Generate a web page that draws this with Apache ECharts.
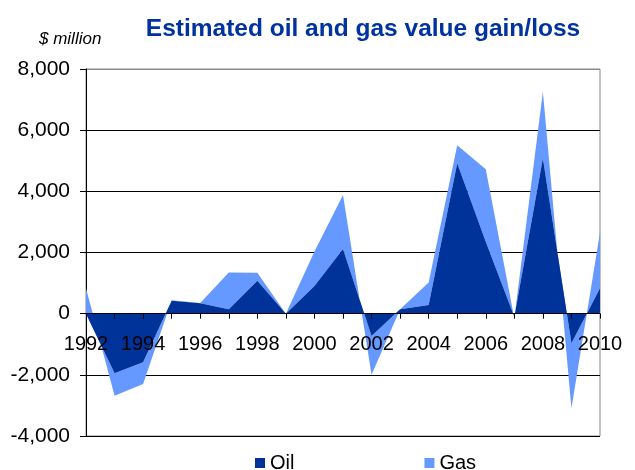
<!DOCTYPE html>
<html><head><meta charset="utf-8">
<script src="https://cdn.jsdelivr.net/npm/echarts@6/dist/echarts.min.js"></script>
<style>html,body{margin:0;padding:0;background:#fff}#c{width:635px;height:470px}</style>
</head><body><div id="c"></div>
<script>
const years = ['1992','1993','1994','1995','1996','1997','1998','1999','2000','2001','2002','2003','2004','2005','2006','2007','2008','2009','2010'];
const oil = [0,-1950,-1590,425,340,145,1080,0,905,2115,-730,145,285,4915,2355,-100,5080,-970,830];
const gas = [830,-730,-710,10,10,1200,260,0,1125,1765,-1270,0,730,595,2365,-50,2175,-2120,1820];
const yTicks = {min:-4000, max:8000, interval:2000};

const W = 635, H = 470;
const G = {left:86, right:35, top:69, bottom:34};
const gridH = H - G.top - G.bottom;
const zeroOffset = -gridH * (0 - yTicks.min) / (yTicks.max - yTicks.min);

const chart = echarts.init(document.getElementById('c'));
chart.setOption({
  animation:false,
  backgroundColor:'#fff',
  title:[
    {text:'Estimated oil and gas value gain/loss', left:358, textAlign:'center', top:12,
     textStyle:{fontFamily:'Liberation Sans, Arial', fontWeight:'bold', fontSize:24.5, color:'#0033A0'}},
    {text:'$ million', left:34, top:26,
     textStyle:{fontFamily:'Liberation Sans, Arial', fontStyle:'italic', fontWeight:'normal', fontSize:17, color:'#000'}}
  ],
  legend:{top:448, left:250, itemGap:130, itemWidth:10, itemHeight:10, icon:'rect',
    textStyle:{fontFamily:'Liberation Sans, Arial', fontSize:20, color:'#000'},
    data:['Oil','Gas']},
  grid:Object.assign({show:true, borderColor:'#888', borderWidth:1}, G),
  xAxis:{type:'category', data:years, boundaryGap:false, position:'bottom', offset:zeroOffset,
    axisLine:{onZero:false, lineStyle:{color:'#000', width:1}},
    axisTick:{show:true, interval:0, length:5, lineStyle:{color:'#000'}},
    axisLabel:{interval:1, margin:21, fontFamily:'Liberation Sans, Arial', fontSize:20, color:'#000'},
    splitLine:{show:false}, z:5},
  yAxis:{type:'value', min:yTicks.min, max:yTicks.max, interval:yTicks.interval,
    axisLine:{show:true, lineStyle:{color:'#000'}},
    axisTick:{show:true, length:6, lineStyle:{color:'#000'}},
    axisLabel:{margin:16, fontFamily:'Liberation Sans, Arial', fontSize:21, color:'#000',
      formatter:v=>v.toLocaleString('en-US')},
    splitLine:{show:true, lineStyle:{color:['#000','#000','#000','#000','#000','#000','#888'], width:1}}},
  series:[
    {name:'Oil', type:'line', stack:'t', stackStrategy:'all', data:oil, showSymbol:false, symbol:'none',
     lineStyle:{width:0}, itemStyle:{color:'#003399'}, areaStyle:{color:'#003399', opacity:1}, z:3},
    {name:'Gas', type:'line', stack:'t', stackStrategy:'all', data:gas, showSymbol:false, symbol:'none',
     lineStyle:{width:0}, itemStyle:{color:'#6699FF'}, areaStyle:{color:'#6699FF', opacity:1}, z:2}
  ]
});
</script></body></html>
